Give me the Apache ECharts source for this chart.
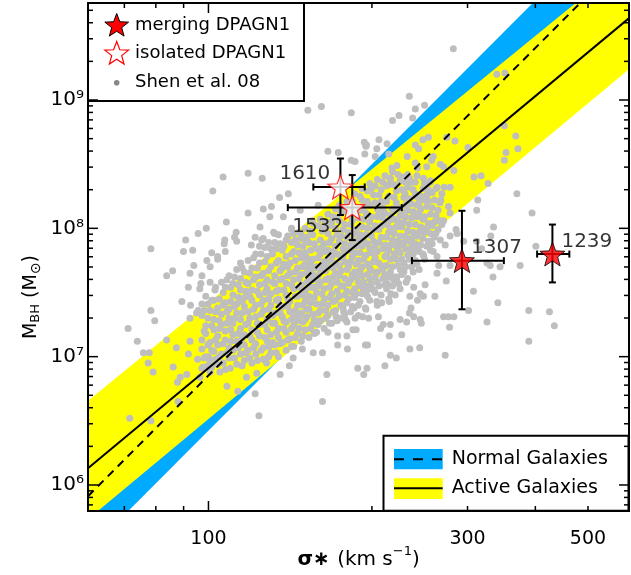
<!DOCTYPE html>
<html><head><meta charset="utf-8">
<script src="https://cdn.jsdelivr.net/npm/echarts@6/dist/echarts.min.js"></script>
<style>html,body{margin:0;padding:0;background:#fff}#c{width:631px;height:575px}</style>
</head><body><div id="c"></div>
<script>
// ---------- axis ranges & ticks ----------
const xMin = 60, xMax = 595;
const yMin = 6.27e5, yMax = 5.7e9;
const xMajorTicks = [100];
const xMinorTicks = [70, 80, 90, 200, 300, 400, 500];
const xTickLabels = [100, 300, 500];
const yMajorTicks = [1e6, 1e7, 1e8, 1e9];
const yMinorTicks = [7e5, 8e5, 9e5, 2e6, 3e6, 4e6, 5e6, 6e6, 7e6, 8e6, 9e6,
  2e7, 3e7, 4e7, 5e7, 6e7, 7e7, 8e7, 9e7, 2e8, 3e8, 4e8, 5e8, 6e8, 7e8, 8e8, 9e8,
  2e9, 3e9, 4e9, 5e9];
const yTickLabels = [[1e6, '10\u2076'], [1e7, '10\u2077'], [1e8, '10\u2078'], [1e9, '10\u2079']];

// ---------- relations (band edges & fits), [sigma, M] ----------
const normalUpper = [[60, 1.92e6], [600, 3.33e10]];
const normalLower = [[60, 3.04e5], [600, 5.28e9]];
const activeUpper = [[60, 4.53e6], [600, 1.28e10]];
const activeLower = [[60, 5.41e5], [600, 1.79e9]];
const normalFit = [[60, 8.18e5], [600, 1.42e10]];
const activeFit = [[60, 1.35e6], [600, 4.47e9]];

// ---------- DPAGN1 objects ----------
const mergingNames = ['1307', '1239'];
const mergingSigma = [293, 430];
const mergingMass = [5.6e7, 6.3e7];
const mergingSigmaErr = [[237, 350], [403, 462]];
const mergingMassErr = [[2.34e7, 1.37e8], [3.79e7, 1.07e8]];

const isolatedNames = ['1610', '1532'];
const isolatedSigma = [175, 184];
const isolatedMass = [2.1e8, 1.45e8];
const isolatedSigmaErr = [[156, 194], [140, 227]];
const isolatedMassErr = [[1.27e8, 3.5e8], [8.1e7, 2.6e8]];

// ---------- Shen et al. 08 sample: [log10 sigma, log10 M] ----------
const shenSparse = [
[1.852,7.22],[1.869,7.12],[1.880,7.03],[1.891,7.03],[1.889,6.95],[1.898,6.88],[1.855,6.52],[1.894,6.50],
[1.894,7.84],[1.894,7.36],[1.901,7.28],[1.923,7.13],[1.941,7.07],[1.935,6.92],[1.948,6.84],[1.960,6.86],
[1.943,6.80],[1.944,6.65],[1.934,7.67],[1.923,7.63],[1.958,7.91],[1.954,7.82],[1.951,7.43],[1.963,7.54],
[1.966,7.65],[1.981,7.96],[1.996,8.00],[2.027,8.40],[2.008,8.29],[2.073,8.43],[2.099,8.39],[2.147,8.27],
[2.131,8.24],[2.116,8.17],[2.073,8.12],[2.033,8.05],[2.030,7.91],[2.048,7.93],[2.006,7.81],[2.079,7.87],
[2.098,7.91],[2.122,7.96],[2.153,7.99],[2.171,7.95],[2.183,8.92],[2.208,8.95],[2.263,8.90],[2.220,8.60],
[2.263,8.53],[2.051,7.97],[2.120,7.97],[1.971,7.83],[2.017,7.78],[2.029,7.88],[2.052,7.90],[1.997,7.75],
[1.973,7.71],[1.986,7.57],[2.003,7.58],[2.012,7.52],[1.984,7.53],[1.967,7.40],[1.978,7.34],[1.981,7.36],
[1.966,7.30],[1.966,7.12],[1.963,7.02],[1.980,6.98],[1.990,6.92],[1.984,6.84],[2.000,7.00],[2.006,6.92],
[2.034,6.77],[2.054,6.73],[2.086,6.71],[2.093,6.54],[2.040,6.91],[2.021,6.88],[2.070,6.84],[2.089,6.87],
[2.107,6.95],[2.132,6.86],[2.149,6.93],[2.156,6.99],[2.173,7.06],[2.193,7.03],[2.210,7.03],[2.218,6.86],
[2.210,6.65],[2.220,7.19],[2.238,7.09],[2.256,7.06],[2.255,7.16],[2.238,7.16],
[2.451,9.40],[2.370,9.03],[2.381,8.93],[2.398,8.96],[2.339,8.84],[2.351,8.88],[2.376,8.86],[2.314,8.69],
[2.287,8.67],[2.290,8.64],[2.239,8.59],[2.270,8.52],[2.332,8.58],[2.531,9.20],[2.546,9.21],[2.545,8.80],
[2.566,8.72],[2.570,8.62],[2.548,8.59],[2.545,8.53],[2.405,8.71],[2.395,8.69],[2.381,8.65],[2.387,8.62],
[2.439,8.71],[2.454,8.68],[2.478,8.63],[2.366,8.56],[2.381,8.51],[2.385,8.47],[2.402,8.48],[2.411,8.53],
[2.414,8.56],[2.347,8.49],[2.338,8.47],[2.335,8.39],[2.427,8.50],[2.433,8.48],[2.452,8.45],[2.445,8.32],
[2.358,8.40],[2.375,8.36],[2.396,8.39],[2.399,8.32],[2.408,8.36],[2.489,8.40],[2.502,8.41],[2.515,8.35],
[2.496,8.22],[2.494,8.14],[2.568,8.27],[2.596,8.12],
[2.362,8.27],[2.381,8.25],[2.365,8.19],[2.387,8.19],[2.402,8.25],[2.408,8.28],[2.428,8.22],[2.442,8.17],
[2.445,8.12],[2.433,8.06],[2.456,7.99],[2.525,8.01],[2.421,8.32],[2.434,8.32],
[2.384,7.94],[2.408,7.90],[2.427,7.91],[2.436,7.87],[2.445,7.94],[2.458,7.96],[2.520,7.94],[2.390,7.87],
[2.372,7.83],[2.396,7.79],[2.414,7.82],[2.421,7.78],[2.445,7.71],[2.470,7.90],[2.494,7.90],[2.513,7.73],
[2.519,7.71],[2.537,7.70],[2.503,7.84],[2.574,7.71],[2.603,7.86],[2.524,7.62],[2.488,7.51],[2.533,7.42],
[2.479,7.36],[2.513,7.27],[2.590,7.36],[2.628,7.35],[2.637,7.24],[2.590,7.12],[2.436,7.01],[2.444,7.23],
[2.442,7.31],[2.433,7.31],[2.452,7.31],[2.417,7.47],[2.438,7.59],[2.353,7.29],[2.365,7.27],[2.371,7.06],
[2.389,7.07],[2.356,7.17],[2.335,7.25],[2.322,7.25],[2.317,7.22],[2.333,7.16],[2.335,7.01],[2.346,6.99],
[2.325,6.93],[2.289,7.09],[2.293,7.09],[2.286,6.86],[2.275,6.91],[2.292,6.91],[2.266,7.21],[2.272,7.21],
[2.396,7.47],[2.390,7.49],[2.399,7.56],[2.378,7.54],[2.364,7.58],[2.350,7.57],[2.341,7.60],[2.329,7.57],
[2.347,7.62],[2.421,7.65],[2.424,7.71],[2.371,7.47],[2.385,7.44],[2.373,7.38],[2.370,7.34],[2.390,7.29],
[2.392,7.26],[2.378,7.31],[2.313,7.31],[2.295,7.30],[2.284,7.31],[2.270,7.30],[2.252,7.29],[2.249,7.35],
[2.235,7.31],[2.310,7.43],[2.319,7.42],[2.333,7.43],[2.336,7.49],[2.344,7.48],[2.301,7.53],[2.292,7.52],
[2.289,7.38],[2.268,7.38],
[2.101,8.15],[2.113,8.09],[2.138,8.09],[2.153,8.00],[2.095,8.01],[2.086,7.93],[2.169,8.14],[2.191,8.06],
[2.202,8.18],[2.178,7.91],[2.291,8.65],[2.288,8.58],[2.310,8.62],[2.307,8.56],[2.329,8.66]
];
// dense core (two interleaved readings): [log10 sigma, log10 M values...]
const shenCore = [
 [1.988, 6.91,7.06,7.13,7.32,7.41,7.63], [1.995, 7.00,7.18,7.24,7.47],
 [2.003, 6.88,6.97,7.11,7.36,7.70], [2.010, 7.04,7.21,7.29,7.44],
 [2.017, 6.94,7.09,7.16,7.38,7.76], [2.024, 7.02,7.25,7.33,7.58],
 [2.031, 6.90,7.13,7.20,7.42,7.54,7.82], [2.038, 6.99,7.07,7.30,7.37,7.63],
 [2.045, 7.05,7.17,7.26,7.48,7.57], [2.052, 6.94,7.12,7.34,7.41,7.68],
 [2.059, 7.02,7.22,7.29,7.52,7.61,7.73], [2.066, 6.97,7.09,7.17,7.39,7.46,7.66],
 [2.073, 7.05,7.26,7.35,7.57,7.75], [2.080, 6.95,7.13,7.21,7.44,7.52,7.69],
 [2.087, 7.02,7.10,7.31,7.40,7.62,7.80], [2.094, 7.16,7.25,7.48,7.56,7.73,7.86],
 [2.101, 6.98,7.07,7.36,7.44,7.65,7.92], [2.108, 7.12,7.21,7.29,7.53,7.60,7.78],
 [2.115, 7.03,7.17,7.40,7.49,7.70,7.84], [2.122, 7.09,7.26,7.34,7.57,7.63,7.89],
 [2.129, 7.00,7.15,7.22,7.45,7.52,7.75,7.95], [2.136, 7.11,7.31,7.39,7.61,7.69,7.83],
 [2.143, 7.05,7.19,7.27,7.48,7.57,7.78,7.91], [2.150, 7.14,7.35,7.43,7.65,7.73],
 [2.157, 7.08,7.24,7.31,7.53,7.60,7.82,7.96], [2.164, 7.18,7.28,7.40,7.47,7.69,7.87],
 [2.171, 7.12,7.34,7.56,7.64,7.77,7.92], [2.178, 7.21,7.29,7.43,7.51,7.72,7.81,8.00],
 [2.185, 7.15,7.37,7.47,7.60,7.68,7.89], [2.192, 7.25,7.33,7.54,7.64,7.76,7.95,8.04],
 [2.199, 7.19,7.41,7.50,7.70,7.84], [2.206, 7.28,7.36,7.58,7.67,7.80,7.91,8.07],
 [2.213, 7.22,7.45,7.53,7.74,7.88,8.00], [2.220, 7.32,7.40,7.61,7.70,7.83,7.96,8.11],
 [2.227, 7.26,7.49,7.57,7.78,7.92,8.05], [2.234, 7.36,7.44,7.65,7.73,7.86,8.00,8.15],
 [2.241, 7.30,7.47,7.63,7.71,7.90,8.06,8.18], [2.248, 7.38,7.55,7.79,7.84,7.99,8.13],
 [2.255, 7.27,7.42,7.51,7.68,7.93,8.21], [2.262, 7.35,7.60,7.74,7.87,8.03,8.10],
 [2.269, 7.46,7.53,7.66,7.81,7.96,8.17,8.27], [2.276, 7.32,7.40,7.58,7.75,7.91,8.08],
 [2.283, 7.49,7.63,7.70,7.86,8.01,8.22,8.31], [2.290, 7.37,7.55,7.79,7.95,8.12],
 [2.297, 7.44,7.61,7.69,7.84,8.05,8.18,8.35], [2.304, 7.52,7.74,7.90,7.99,8.26],
 [2.311, 7.40,7.58,7.66,7.82,8.09,8.15,8.38], [2.318, 7.48,7.71,7.93,8.02,8.21,8.30],
 [2.325, 7.56,7.64,7.78,7.87,8.12,8.41], [2.332, 7.45,7.62,7.83,7.97,8.06,8.25,8.34],
 [2.339, 7.55,7.70,7.91,8.15,8.44], [2.346, 7.60,7.76,7.86,8.01,8.20,8.29],
 [2.353, 7.53,7.68,7.81,7.94,8.10,8.37], [2.360, 7.66,7.73,7.89,8.05,8.24],
 [2.367, 7.61,7.79,7.98,8.14,8.32,8.42], [2.374, 7.70,7.85,7.92,8.08,8.19],
 [2.381, 7.75,7.88,8.03,8.27,8.36], [2.388, 7.68,7.82,7.97,8.12,8.21],
 [2.395, 7.80,7.92,8.07,8.31], [2.402, 7.86,8.00,8.17,8.26],
 [2.409, 7.83,7.96,8.11,8.37], [2.416, 7.93,8.05,8.22],
 [2.423, 7.99,8.14], [2.430, 8.03,8.27],
 [1.992, 6.99,7.20,7.36], [1.999, 6.93,7.09,7.30,7.41],
 [2.006, 7.05,7.24,7.44], [2.013, 6.98,7.13,7.35,7.54],
 [2.020, 7.00,7.22,7.28,7.45], [2.027, 6.95,7.10,7.40,7.50],
 [2.034, 7.03,7.26,7.35,7.60], [2.041, 7.12,7.21,7.43,7.54],
 [2.048, 6.99,7.30,7.39,7.62], [2.055, 7.07,7.18,7.46,7.56],
 [2.062, 6.93,7.14,7.34,7.43,7.69], [2.069, 7.03,7.25,7.51,7.58],
 [2.076, 6.99,7.16,7.30,7.47,7.65], [2.083, 7.07,7.37,7.60,7.77],
 [2.090, 6.97,7.19,7.26,7.51,7.69], [2.097, 7.05,7.33,7.41,7.63,7.80],
 [2.104, 7.15,7.25,7.50,7.57,7.74,7.85], [2.111, 7.00,7.08,7.37,7.45,7.67,7.89],
 [2.118, 7.11,7.26,7.32,7.58,7.80], [2.125, 7.03,7.19,7.44,7.51,7.73,7.84],
 [2.132, 7.10,7.34,7.40,7.60,7.67,7.88], [2.139, 7.22,7.28,7.52,7.72,7.86],
 [2.146, 7.13,7.39,7.45,7.63,7.70,7.94], [2.153, 7.08,7.22,7.29,7.56,7.80,7.89],
 [2.160, 7.15,7.36,7.47,7.66,7.75,7.91], [2.167, 7.22,7.32,7.54,7.61,7.81,7.97],
 [2.174, 7.16,7.27,7.40,7.48,7.70,7.86], [2.181, 7.31,7.37,7.58,7.65,7.77,7.93],
 [2.188, 7.22,7.42,7.54,7.73,7.83,7.98], [2.195, 7.18,7.29,7.46,7.60,7.69,7.88],
 [2.202, 7.25,7.34,7.55,7.63,7.77,8.02], [2.209, 7.41,7.49,7.71,7.85,7.98],
 [2.216, 7.30,7.36,7.60,7.67,7.82,8.05], [2.223, 7.26,7.46,7.54,7.75,7.89,8.02],
 [2.230, 7.35,7.43,7.62,7.69,7.82,8.09], [2.237, 7.28,7.51,7.58,7.80,7.95,8.08],
 [2.244, 7.40,7.55,7.67,7.77,7.94,8.12], [2.251, 7.33,7.48,7.61,7.74,7.88,8.03,8.16],
 [2.258, 7.45,7.57,7.70,7.83,7.97,8.15], [2.265, 7.39,7.50,7.64,7.78,7.91,8.06,8.21],
 [2.272, 7.49,7.62,7.72,7.86,7.99,8.12], [2.279, 7.43,7.55,7.67,7.81,7.95,8.14,8.25],
 [2.286, 7.52,7.58,7.76,7.91,8.07,8.17], [2.293, 7.47,7.64,7.72,7.88,8.00,8.21,8.29],
 [2.300, 7.57,7.67,7.81,7.94,8.09,8.31], [2.307, 7.50,7.62,7.77,7.86,8.02,8.20,8.33],
 [2.314, 7.55,7.73,7.89,7.99,8.12,8.26], [2.321, 7.61,7.68,7.84,8.08,8.16,8.36],
 [2.328, 7.53,7.71,7.79,7.93,8.03,8.21,8.33], [2.335, 7.66,7.76,7.87,8.00,8.10,8.38],
 [2.342, 7.62,7.80,7.96,8.07,8.24,8.34], [2.349, 7.71,7.83,7.90,8.05,8.16,8.42],
 [2.356, 7.64,7.76,7.87,8.01,8.13,8.30], [2.363, 7.70,7.84,7.94,8.09,8.18,8.36],
 [2.370, 7.76,7.90,8.03,8.23,8.39], [2.377, 7.66,7.80,7.97,8.13,8.30],
 [2.384, 7.72,7.84,7.94,8.09,8.18,8.41], [2.391, 7.87,8.01,8.15,8.25],
 [2.398, 7.76,7.97,8.09,8.22,8.35], [2.405, 7.90,8.04,8.21,8.30],
 [2.412, 7.88,8.02,8.16,8.28], [2.419, 7.96,8.10,8.31],
 [2.426, 8.06,8.20]
];

// ---------- build ----------
const shenData = shenSparse.map(p => [Math.pow(10, p[0]), Math.pow(10, p[1])]);
shenCore.forEach(col => { for (let i = 1; i < col.length; i++) shenData.push([Math.pow(10, col[0]), Math.pow(10, col[i])]); });

const FONT = '"DejaVu Sans", sans-serif';
const STAR = 'path://M0,-10L2.469,-3.398L9.511,-3.09L3.994,1.298L5.878,8.09L0,4.2L-5.878,8.09L-3.994,1.298L-9.511,-3.09L-2.469,-3.398Z';
function starPts(cx, cy, R) {
  const pts = [];
  for (let i = 0; i < 10; i++) {
    const r = i % 2 === 0 ? R : R * 0.42;
    const a = i * Math.PI / 5;
    pts.push([cx + r * Math.sin(a), cy - r * Math.cos(a)]);
  }
  return pts;
}
const mctx = document.createElement('canvas').getContext('2d');
function tw(t, size, bold) { mctx.font = (bold ? 'bold ' : '') + size + 'px "DejaVu Sans"'; return mctx.measureText(t).width; }

function txt(x, y, text, size, align, extra) {
  return Object.assign({ type: 'text', x: x, y: y, z: 6,
    style: { text: text, fill: '#000', font: size + 'px ' + FONT, fontSize: size, fontFamily: 'DejaVu Sans',
      textAlign: align || 'left', align: align || 'left', textVerticalAlign: 'middle', verticalAlign: 'middle' } }, extra || {});
}

const chart = echarts.init(document.getElementById('c'));

const errData = [];
for (let i = 0; i < mergingNames.length; i++) errData.push([mergingSigma[i], mergingMass[i], mergingSigmaErr[i][0], mergingSigmaErr[i][1], mergingMassErr[i][0], mergingMassErr[i][1]]);
for (let i = 0; i < isolatedNames.length; i++) errData.push([isolatedSigma[i], isolatedMass[i], isolatedSigmaErr[i][0], isolatedSigmaErr[i][1], isolatedMassErr[i][0], isolatedMassErr[i][1]]);

const labelOffsets = { '1610': ['left', [3, -13]], '1532': ['left', [4, 19]], '1307': ['right', [-4, -13]], '1239': ['right', [-4, -12]] };
function starData(names, sig, mass) {
  return names.map((n, i) => ({ name: n, value: [sig[i], mass[i]],
    label: { show: true, position: labelOffsets[n][0], distance: 0, offset: labelOffsets[n][1] } }));
}

const axisCommon = { axisLine: { show: false }, axisTick: { show: false }, axisLabel: { show: false }, splitLine: { show: false } };

const option = {
  animation: false,
  grid: { left: 88, right: 2, top: 3, bottom: 64 },
  xAxis: Object.assign({ type: 'log', logBase: 10, min: xMin, max: xMax }, axisCommon),
  yAxis: Object.assign({ type: 'log', logBase: 10, min: yMin, max: yMax }, axisCommon),
  series: [
    { type: 'custom', z: 1, clip: true, silent: true, data: [[100, 1e8]],
      renderItem: function (params, api) {
        const poly = (up, lo, col) => ({ type: 'polygon',
          shape: { points: [api.coord(up[0]), api.coord(up[1]), api.coord(lo[1]), api.coord(lo[0])] },
          style: { fill: col, stroke: null } });
        return { type: 'group', children: [poly(normalUpper, normalLower, '#00aaff'), poly(activeUpper, activeLower, '#ffff00')] };
      } },
    { type: 'scatter', z: 2, data: shenData, symbol: 'circle', symbolSize: 7, silent: true, large: false,
      itemStyle: { color: '#bebebe', opacity: 1 } },
    { type: 'line', z: 3, data: normalFit, symbol: 'none', silent: true,
      lineStyle: { color: '#000', width: 2, type: [8, 6] } },
    { type: 'line', z: 3, data: activeFit, symbol: 'none', silent: true,
      lineStyle: { color: '#000', width: 2, type: 'solid' } },
    { type: 'custom', z: 7, silent: true, data: errData,
      renderItem: function (params, api) {
        const s = api.value(0), m = api.value(1);
        const pL = api.coord([api.value(2), m]), pR = api.coord([api.value(3), m]);
        const pB = api.coord([s, api.value(4)]), pT = api.coord([s, api.value(5)]);
        const c = 3.5, st = { stroke: '#000', lineWidth: 2 };
        const ln = (x1, y1, x2, y2) => ({ type: 'line', shape: { x1: x1, y1: y1, x2: x2, y2: y2 }, style: st });
        return { type: 'group', children: [
          ln(pL[0], pL[1], pR[0], pR[1]), ln(pL[0], pL[1] - c, pL[0], pL[1] + c), ln(pR[0], pR[1] - c, pR[0], pR[1] + c),
          ln(pT[0], pT[1], pB[0], pB[1]), ln(pT[0] - c, pT[1], pT[0] + c, pT[1]), ln(pB[0] - c, pB[1], pB[0] + c, pB[1])
        ] };
      } },
    { type: 'scatter', z: 8, name: 'merging DPAGN1', symbol: STAR, symbolSize: 25, symbolKeepAspect: true,
      data: starData(mergingNames, mergingSigma, mergingMass),
      itemStyle: { color: '#ff0000', borderColor: '#000', borderWidth: 1 },
      label: { formatter: '{b}', color: '#000', fontSize: 20, fontFamily: 'DejaVu Sans' } },
    { type: 'scatter', z: 8, name: 'isolated DPAGN1', symbol: STAR, symbolSize: 25, symbolKeepAspect: true,
      data: starData(isolatedNames, isolatedSigma, isolatedMass),
      itemStyle: { color: '#ffffff', borderColor: '#ff0000', borderWidth: 1.2 },
      label: { formatter: '{b}', color: '#000', fontSize: 20, fontFamily: 'DejaVu Sans' } },
    { type: 'custom', z: 10, clip: false, silent: true, data: [[100, 1e8]],
      renderItem: function (params, api) {
        const bl = api.coord([xMin, yMin]), tr = api.coord([xMax, yMax]);
        const L = bl[0], B = bl[1], R = tr[0], T = tr[1];
        const ch = [], st = { stroke: '#000', lineWidth: 1.5 };
        const add = (x1, y1, x2, y2) => ch.push({ type: 'line', shape: { x1: x1, y1: y1, x2: x2, y2: y2 }, style: st });
        xMajorTicks.forEach(v => { const x = api.coord([v, yMin])[0]; add(x, B, x, B - 10); add(x, T, x, T + 10); });
        xMinorTicks.forEach(v => { const x = api.coord([v, yMin])[0]; add(x, B, x, B - 5); add(x, T, x, T + 5); });
        yMajorTicks.forEach(v => { const y = api.coord([xMin, v])[1]; add(L, y, L + 10, y); add(R, y, R - 10, y); });
        yMinorTicks.forEach(v => { const y = api.coord([xMin, v])[1]; add(L, y, L + 5, y); add(R, y, R - 5, y); });
        ch.push({ type: 'rect', shape: { x: L, y: T, width: R - L, height: B - T }, style: { fill: null, stroke: '#000', lineWidth: 2 } });
        xTickLabels.forEach(v => { const x = api.coord([v, yMin])[0]; ch.push(txt(x, B + 28, String(v), 19, 'center')); });
        yTickLabels.forEach(p => { const y = api.coord([xMin, p[0]])[1]; ch.push(txt(L - 4, y, p[1], 20, 'right')); });
        return { type: 'group', children: ch };
      } }
  ]
};

// ---------- legends & titles (graphic) ----------
const g = [];
g.push({ type: 'rect', z: 5, shape: { x: 88, y: 3, width: 216, height: 98 }, style: { fill: '#fff', stroke: '#000', lineWidth: 2 } });
g.push({ type: 'polygon', z: 6, shape: { points: starPts(116.7, 26, 12.5) }, style: { fill: '#ff0000', stroke: '#000', lineWidth: 1 } });
g.push({ type: 'polygon', z: 6, shape: { points: starPts(116.7, 54, 12.5) }, style: { fill: '#ffffff', stroke: '#ff0000', lineWidth: 1.2 } });
g.push({ type: 'circle', z: 6, shape: { cx: 116.7, cy: 82.7, r: 2.8 }, style: { fill: '#888888' } });
g.push(txt(135, 25, 'merging DPAGN1', 18, 'left'));
g.push(txt(135, 53, 'isolated DPAGN1', 18, 'left'));
g.push(txt(135, 82, 'Shen et al. 08', 18, 'left'));
g.push({ type: 'rect', z: 5, shape: { x: 383.5, y: 435.7, width: 245, height: 75 }, style: { fill: '#fff', stroke: '#000', lineWidth: 2 } });
g.push({ type: 'rect', z: 6, shape: { x: 394, y: 449, width: 48.7, height: 20.3 }, style: { fill: '#00aaff' } });
g.push({ type: 'line', z: 6, shape: { x1: 394, y1: 459.3, x2: 442.7, y2: 459.3 }, style: { stroke: '#000', lineWidth: 2, lineDash: [10, 9] } });
g.push({ type: 'rect', z: 6, shape: { x: 394, y: 478.3, width: 48.7, height: 20.7 }, style: { fill: '#ffff00' } });
g.push({ type: 'line', z: 6, shape: { x1: 394, y1: 488.3, x2: 442.7, y2: 488.3 }, style: { stroke: '#000', lineWidth: 2 } });
g.push(txt(451.7, 459, 'Normal Galaxies', 19, 'left'));
g.push(txt(451.7, 488, 'Active Galaxies', 19, 'left'));

(function () {
  const p1 = '\u03c3\u2217', p2 = ' (km s', p3 = '\u22121', p4 = ')';
  const w1 = tw(p1, 20, true) + 1, w2 = tw(p2, 20), w3 = tw(p3, 13), w4 = tw(p4, 20);
  let x = 358.6 - (w1 + w2 + w3 + w4) / 2; const y = 560;
  const t1 = txt(x, y, p1, 20, 'left'); t1.style.fontWeight = 'bold'; t1.style.font = 'bold 20px ' + FONT; g.push(t1); x += w1;
  g.push(txt(x, y, p2, 20, 'left')); x += w2;
  g.push(txt(x, y - 8, p3, 13, 'left')); x += w3;
  g.push(txt(x, y, p4, 20, 'left'));
})();
(function () {
  const parts = [['M', 19, 0], ['BH', 13, 5], [' (M', 19, 0], ['\u2299', 14, 5], [')', 19, 0]];
  const total = parts.reduce((s, p) => s + tw(p[0], p[1]), 0);
  let x = -total / 2; const ch = [];
  parts.forEach(p => { ch.push(txt(x, p[2], p[0], p[1], 'left')); x += tw(p[0], p[1]); });
  g.push({ type: 'group', x: 31, y: 297, rotation: Math.PI / 2, z: 6, children: ch });
})();
option.graphic = { elements: g };

chart.setOption(option);
</script>
</body></html>
